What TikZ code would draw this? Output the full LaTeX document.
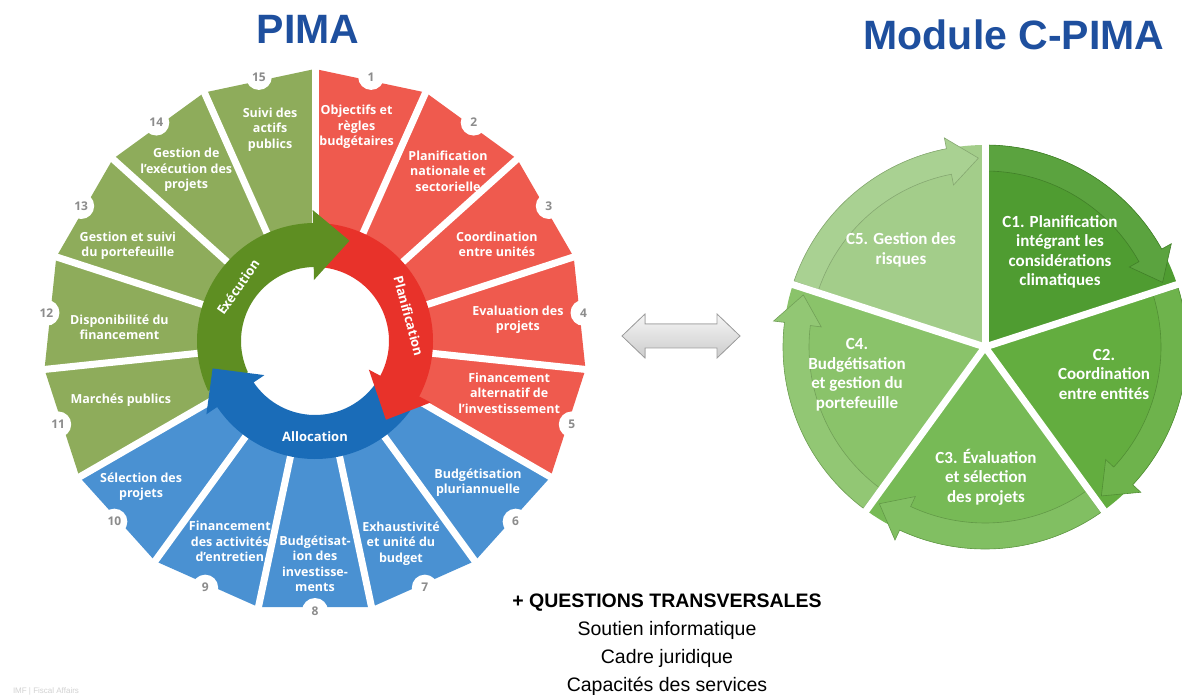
\documentclass[tikz,border=0pt]{standalone}
\usepackage{fontspec}
\setmainfont{Liberation Sans}
\newfontfamily\segfont{Open Sans}
\newfontfamily\modfont{Carlito}
\usepackage{tikz}

\definecolor{segred}{HTML}{EF5A4E}
\definecolor{segblue}{HTML}{4A91D2}
\definecolor{seggreen}{HTML}{8EAC5B}
\definecolor{ringred}{HTML}{E8322A}
\definecolor{ringblue}{HTML}{1A6CB8}
\definecolor{ringgreen}{HTML}{5E8E22}
\definecolor{numgray}{HTML}{8C8C8C}
\definecolor{titleblue}{HTML}{1E4F9E}
\definecolor{cone}{HTML}{4F9C31}
\definecolor{ctwo}{HTML}{63AD3F}
\definecolor{cthree}{HTML}{77BA56}
\definecolor{cfour}{HTML}{8AC36A}
\definecolor{cfive}{HTML}{A3CD8A}

\begin{document}
\begin{tikzpicture}[
    x=1pt, y=1pt,
    every node/.style={inner sep=0pt, outer sep=0pt},
    segtext/.style={text=white, align=center, font=\segfont\bfseries\fontsize{12.5}{15.5}\selectfont},
    numtext/.style={text=numgray, font=\segfont\bfseries\fontsize{12}{12}\selectfont},
    ringtext/.style={text=white, font=\segfont\bfseries\fontsize{13}{13}\selectfont},
    modtext/.style={text=white, align=center, font=\modfont\bfseries\fontsize{17}{19.5}\selectfont},
    title/.style={text=titleblue, font=\bfseries\fontsize{41}{41}\selectfont},
    gap/.style={white, line width=7pt}
  ]
  \useasboundingbox (0,0) rectangle (1182,694);
  \fill[white] (0,0) rectangle (1182,694);

  \node (pima) [title] at (308,665) {PIMA};
  \node (cpima) [title] at (1014,659) {Module C-PIMA};

  % PIMA wheel
  \begin{scope}[shift={(315,353)}]
    \foreach \k/\col in {1/segred,2/segred,3/segred,4/segred,5/segred,
        6/segblue,7/segblue,8/segblue,9/segblue,10/segblue,
        11/seggreen,12/seggreen,13/seggreen,14/seggreen,15/seggreen}
      \fill[\col] (114-24*\k:100) -- (114-24*\k:272) -- (90-24*\k:272) -- (90-24*\k:100) -- cycle;
    \foreach \k in {1,...,15} {
      \draw[gap] (90-24*\k:112) -- (90-24*\k:290);
      \fill[white] (102-24*\k:270) circle[radius=13pt];
      \node (num\k) [numtext] at (102-24*\k:270) {\k};
    }
    \foreach \k/\ta/\tr/\txt in {
        1/79/218/{Objectifs et\\règles\\budgétaires},
        2/52/216/{Planification\\nationale et\\sectorielle},
        3/28/206/{Coordination\\entre unités},
        4/6/204/{Evaluation des\\projets},
        5/-15/201/{Financement\\alternatif de\\l’investissement},
        6/-41/216/{Budgétisation\\pluriannuelle},
        7/-67/220/{Exhaustivité\\et unité du\\budget},
        8/-90/223/{Budgétisat-\\ion des\\investisse-\\ments},
        9/-113/218/{Financement\\des activités\\d’entretien},
        10/-140/227/{Sélection des\\projets},
        11/-163/203/{Marchés publics},
        12/176/196/{Disponibilité du\\financement},
        13/153/210/{Gestion et suivi\\du portefeuille},
        14/127/214/{Gestion de\\l’exécution des\\projets},
        15/102/216/{Suivi des\\actifs\\publics}}
      \node (seg\k) [segtext] at (\ta:\tr) {\txt};
    % inner cycle
    \foreach \col/\s/\e in {ringblue/-36/-147, ringgreen/205/90, ringred/85/-29}
      \fill[\col] (\s:118) arc[start angle=\s, end angle=\e, radius=118pt]
        -- (\e:74) arc[start angle=\e, end angle=\s, radius=74pt] -- cycle;
    \foreach \col/\e/\t in {ringblue/-147/-165, ringgreen/90/71, ringred/-29/-48}
      \fill[\col] (\e+1:131) -- (\t:106) -- (\e+1:61) -- cycle;
    \node (exec) [ringtext, rotate=55] at (145:94) {Exécution};
    \node (plan) [ringtext, rotate=-75] at (15:97) {Planification};
    \node (alloc) [ringtext] at (-90:96) {Allocation};
  \end{scope}

  \filldraw[draw=gray!75, line width=0.8pt, top color=gray!8, bottom color=gray!40]
    (622,358) -- (645,380) -- (645,370) -- (717,370) -- (717,380) -- (740,358)
    -- (717,336) -- (717,346) -- (645,346) -- (645,336) -- cycle;

  % C-PIMA wheel
  \begin{scope}[shift={(985,347)}]
    \foreach \col/\a/\b in {cone/90/18, ctwo/18/-54, cthree/-54/-126, cfour/234/162, cfive/162/90} {
      \pgfmathsetmacro\aa{\a-1}
      \pgfmathsetmacro\bb{\b+11}
      \pgfmathsetmacro\bt{\b+2}
      \fill[\col] (0,0) -- (\a:202) arc[start angle=\a, end angle=\b, radius=202pt] -- cycle;
      \filldraw[fill=\col!93!white, draw=\col!82!black, line width=0.6pt]
        (\aa:202) arc[start angle=\aa, end angle=\bb, radius=202pt] -- (\bb:213)
        -- (\bt:189) -- (\bb:165) -- (\bb:176)
        arc[start angle=\bb, end angle=\aa, radius=176pt] -- cycle;
    }
    \foreach \a in {90,18,-54,-126,-198}
      \draw[gap] (0,0) -- (\a:225);
  \end{scope}
  \node (c1) [modtext] at (1060,442) {C1. Planification\\intégrant les\\considérations\\climatiques};
  \node (c2) [modtext] at (1104,320) {C2.\\Coordination\\entre entités};
  \node (c3) [modtext] at (986,217) {C3. Évaluation\\et sélection\\des projets};
  \node (c4) [modtext] at (857,319) {C4.\\Budgétisation\\et gestion du\\portefeuille};
  \node (c5) [modtext] at (901,444) {C5. Gestion des\\risques};

  \node (transv) [align=center, font=\fontsize{19.5}{28}\selectfont] at (667,49)
    {\textbf{+ QUESTIONS TRANSVERSALES}\\Soutien informatique\\Cadre juridique\\Capacités des services};
  \node (imf) [anchor=south west, text=gray!35, font=\fontsize{8}{8}\selectfont] at (13,-1) {IMF | Fiscal Affairs};
\end{tikzpicture}
\end{document}
